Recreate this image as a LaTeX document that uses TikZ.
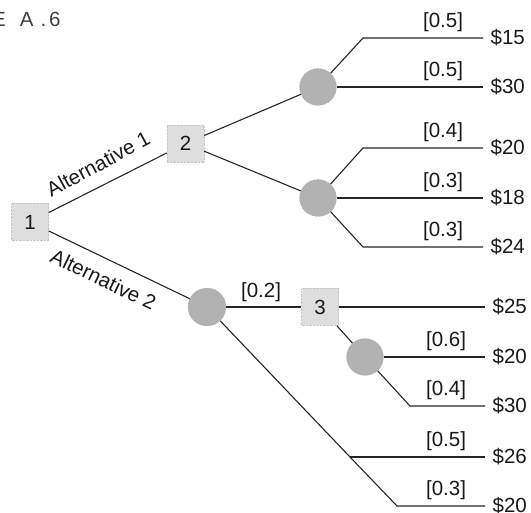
\documentclass[tikz,border=0pt]{standalone}
\usepackage{fontspec}
\setmainfont{Liberation Sans}
\begin{document}
\begin{tikzpicture}[x=1pt,y=-1pt,
  txt/.style={font=\fontsize{20.5}{24}\selectfont,inner sep=0pt,text=black!90},
  dec/.style={txt,rectangle,fill=black!13,draw=black!22,densely dotted,minimum width=37pt,minimum height=37pt},
  chance/.style={circle,fill=black!30,draw=black!40,densely dotted,minimum size=37pt,inner sep=0pt},
  edge/.style={line width=1.1pt,draw=black!85},
  prob/.style={txt},
  pay/.style={txt,anchor=west,xshift=7.5pt}]
\useasboundingbox (0,0) rectangle (531,513);
% title fragment
\node[txt,anchor=base west,text=black!75] (title) at (-8,27) {E\kern14pt A\kern7pt.\kern3pt6};
% decision and chance nodes
\node[dec] (d1) at (30,222) {1};
\node[dec] (d2) at (185.5,143.5) {2};
\node[dec] (d3) at (320,307) {3};
\node[chance] (cA) at (318,87) {};
\node[chance] (cB) at (318,198) {};
\node[chance,minimum size=38pt] (cC) at (207,307) {};
\node[chance] (cD) at (365,357) {};
% corners and ends
\coordinate (kA1) at (363,38);  \coordinate (eA1) at (483,38);
\coordinate (eA2) at (483,87);
\coordinate (kB1) at (363,148); \coordinate (eB1) at (483,148);
\coordinate (eB2) at (483,198);
\coordinate (kB3) at (363,247); \coordinate (eB3) at (483,247);
\coordinate (e3) at (485,307);
\coordinate (eD1) at (485,357);
\coordinate (kD2) at (410,406); \coordinate (eD2) at (485,406);
\coordinate (kC1) at (350,457); \coordinate (eC1) at (485,457);
\coordinate (kC2) at (397,506); \coordinate (eC2) at (485,506);
% connectors
\draw[edge] (d1) -- (d2) node[txt,pos=0.5,sloped,above=13pt,rotate=1.5] (alt1) {Alternative 1};
\draw[edge] (d1) -- (cC) node[txt,pos=0.45,sloped,below=12pt] (alt2) {Alternative 2};
\draw[edge] (d2) -- (cA);
\draw[edge] (d2) -- (cB);
\draw[edge] (cA) -- (kA1) -- (eA1);
\draw[edge] (cA) -- (eA2);
\draw[edge] (cB) -- (kB1) -- (eB1);
\draw[edge] (cB) -- (eB2);
\draw[edge] (cB) -- (kB3) -- (eB3);
\draw[edge] (cC) -- (d3);
\draw[edge] (d3) -- (e3);
\draw[edge] (d3) -- (cD);
\draw[edge] (cD) -- (eD1);
\draw[edge] (cD) -- (kD2) -- (eD2);
\draw[edge] (cC) -- (kC1) -- (kC2) -- (eC2);
\draw[edge] (kC1) -- (eC1);
% probabilities
\node[prob] (pA1) at (443,22) {[0.5]};
\node[prob] (pA2) at (443,71) {[0.5]};
\node[prob] (pB1) at (443,132) {[0.4]};
\node[prob] (pB2) at (443,182) {[0.3]};
\node[prob] (pB3) at (443,231) {[0.3]};
\node[prob] (p3) at (261,292) {[0.2]};
\node[prob] (pD1) at (446,341) {[0.6]};
\node[prob] (pD2) at (446,390) {[0.4]};
\node[prob] (pC1) at (446,441) {[0.5]};
\node[prob] (pC2) at (446,490) {[0.3]};
% payoffs
\node[pay] (vA1) at (eA1) {\$15};
\node[pay] (vA2) at (eA2) {\$30};
\node[pay] (vB1) at (eB1) {\$20};
\node[pay] (vB2) at (eB2) {\$18};
\node[pay] (vB3) at (eB3) {\$24};
\node[pay] (v3) at (e3) {\$25};
\node[pay] (vD1) at (eD1) {\$20};
\node[pay] (vD2) at (eD2) {\$30};
\node[pay] (vC1) at (eC1) {\$26};
\node[pay] (vC2) at (eC2) {\$20};
\end{tikzpicture}
\end{document}
